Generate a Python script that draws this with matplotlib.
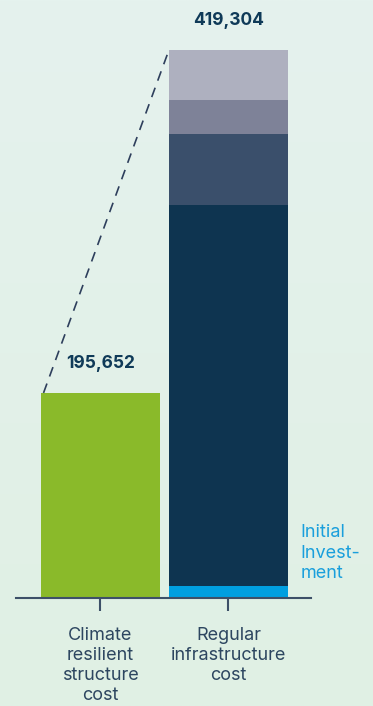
import numpy as np
import matplotlib
matplotlib.use("Agg")
import matplotlib.pyplot as plt

# data
categories = ["Climate\nresilient\nstructure\ncost", "Regular\ninfrastructure\ncost"]
total_labels = ["195,652", "419,304"]
climate_bar_height = 156900          # height as drawn in the picture
regular_segments = [9200, 291500, 54300, 26000, 38304]   # bottom -> top
segment_colors = ["#009fe0", "#0e3450", "#3a4f6b", "#7e8298", "#aeb0bf"]
green = "#8aba2a"
navy = "#0f3a58"

plt.rcParams["font.family"] = ["Inter", "DejaVu Sans"]

W, H = 373, 706
fig = plt.figure(figsize=(W / 100, H / 100), dpi=100)

# soft vertical gradient background
bg = fig.add_axes([0, 0, 1, 1], zorder=-10)
top_c = np.array([0xe5, 0xf2, 0xee]) / 255
bot_c = np.array([0xe0, 0xf0, 0xe4]) / 255
t = np.linspace(0, 1, 256)[:, None]
grad = top_c * (1 - t)[..., None] + bot_c * t[..., None]
bg.imshow(grad, aspect="auto", extent=[0, 1, 0, 1])
bg.axis("off")

base_px, top_px = 598, 50
ax = fig.add_axes([16 / W, (H - base_px) / H, 295 / W, base_px / H])
ax.patch.set_alpha(0)

total = sum(regular_segments)
ax.set_ylim(0, total * base_px / (base_px - top_px))
ax.set_xlim(-0.66, 1.645)

width = 0.93
x = np.arange(len(categories))
ax.bar(x[0], climate_bar_height, width=width, color=green, zorder=2)
bottom = 0
for val, col in zip(regular_segments, segment_colors):
    ax.bar(x[1], val, bottom=bottom, width=width, color=col, zorder=2)
    bottom += val

# value labels
for xi, h, lab in zip(x, [climate_bar_height, total], total_labels):
    ax.annotate(lab, (xi, h), xytext=(0, 21), textcoords="offset points",
                ha="center", va="center", fontsize=12.5, fontweight="bold",
                color=navy, annotation_clip=False)

# dashed connector between bar tops
ax.plot([x[0] - width / 2 + 0.02, x[1] - width / 2],
        [climate_bar_height, total], color="#2e3f5c", lw=1.2,
        dashes=(6, 4.5), zorder=3, clip_on=False)

ax.annotate("Initial\nInvest-\nment", (1.565, 0), xytext=(0, 53),
            textcoords="offset points", color="#1a9fdc", fontsize=13,
            ha="left", va="top", linespacing=1.25, annotation_clip=False)

for s in ["top", "right", "left"]:
    ax.spines[s].set_visible(False)
ax.spines["bottom"].set_color("#3d5068")
ax.spines["bottom"].set_linewidth(1.5)
ax.set_yticks([])
ax.set_xticks(x)
ax.set_xticklabels(categories, fontsize=13, color="#2d4660", linespacing=1.22)
ax.tick_params(axis="x", length=9, width=1.5, color="#3d5068", pad=12)

fig.savefig("out.png", dpi=100)
